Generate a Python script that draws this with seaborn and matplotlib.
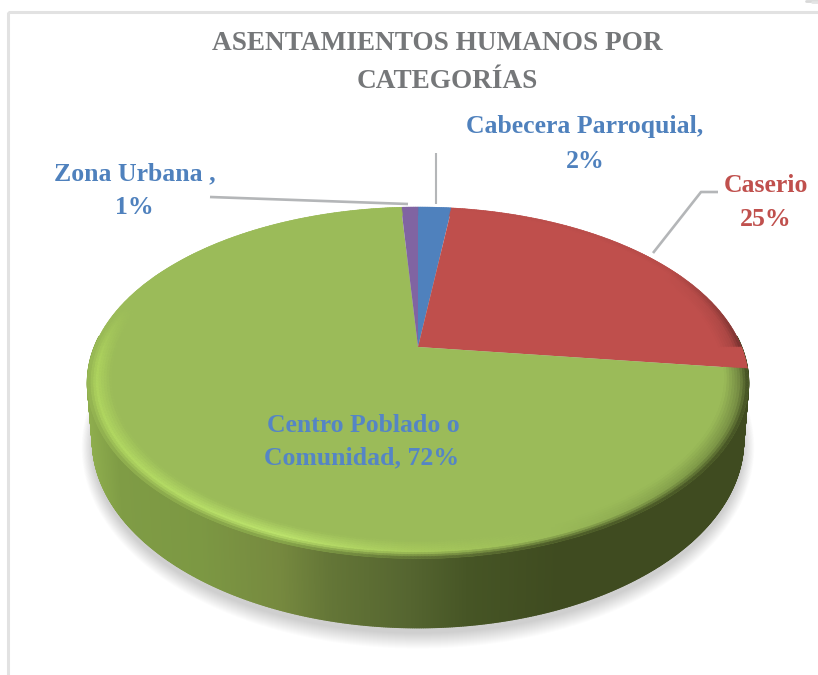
import numpy as np
import matplotlib
matplotlib.use("Agg")
import matplotlib.pyplot as plt
import matplotlib.transforms as mtransforms
from matplotlib.collections import PolyCollection
from matplotlib.colors import to_rgb
from matplotlib.patches import Polygon, Rectangle
import seaborn as sns

# ---- data ----
categories = ["Cabecera Parroquial", "Caserio", "Centro Poblado o Comunidad", "Zona Urbana"]
values = [2, 25, 72, 1]
slice_colors = ["#4f81bd", "#bf4f4c", "#9bbb59", "#8064a2"]
title_lines = ["ASENTAMIENTOS HUMANOS POR", "CATEGORÍAS"]

sns.set_theme(style="white")
plt.rcParams["font.family"] = ["Liberation Serif", "DejaVu Serif"]

# ---- perspective of the disc (pixels) ----
CX, CY, A, B, K = 418.0, 347.0, 323.6, 168.5, 0.2037
DEPTH = 55.0


class Persp(mtransforms.Transform):
    input_dims = 2
    output_dims = 2
    is_separable = False
    has_inverse = False

    def transform_non_affine(self, v):
        v = np.asarray(v, float)
        w = 1 + K * v[:, 1]
        return np.column_stack((CX + A * v[:, 0] / w, CY - B * v[:, 1] / w))


persp = Persp()


def ring(theta, r=1.0, drop=0.0, shrink=1.0):
    w = 1 + K * r * np.sin(theta)
    x = CX + shrink * A * r * np.cos(theta) / w
    y = CY - B * r * np.sin(theta) / w + drop / w
    return x, y


def rgb(c):
    return np.array(to_rgb(c))


def interp_col(q, xs, cols):
    arr = np.array([rgb(c) for c in cols])
    return np.column_stack([np.interp(q, xs, arr[:, i]) for i in range(3)])


fig = plt.figure(figsize=(8.18, 6.75), dpi=100, facecolor="white")
ax = fig.add_axes([0, 0, 1, 1])

wedges, _ = ax.pie(values, colors=slice_colors, startangle=90, counterclock=False,
                   radius=1.0, wedgeprops=dict(linewidth=0))
for w in wedges:
    w.set_transform(persp + ax.transData)
    w.set_zorder(5)

ax.set_aspect("auto")
ax.set_xlim(0, 818)
ax.set_ylim(675, 0)
ax.axis("off")

# frame of the picture
ax.add_patch(Rectangle((8, 12), 830, 690, fill=False, ec="#e2e2e2", lw=2.2, zorder=0))
ax.plot([806, 818], [0.5, 0.5], color="#d8d8d8", lw=2, zorder=0)
ax.plot([812, 818], [2, 2], color="#e4e4e4", lw=2, zorder=0)

# soft shadow
th = np.linspace(0, 2 * np.pi, 361)
sx, sy = ring(th, 1.0, DEPTH, 0.985)
for i in range(16):
    gx = 1 + 0.0022 * i
    gy = 1 + 0.0048 * i
    ax.add_patch(Polygon(np.column_stack((CX + (sx - CX) * gx,
                                          420 + (sy - 420) * gy + 6)),
                         fc="black", ec="none", alpha=0.011, zorder=1))

# side wall
n = 720
edges = np.linspace(-np.pi * 0.02, np.pi * 1.02, n + 1) + np.pi
ux, uy = ring(edges, 1.0)
lx, ly = ring(edges, 1.0, DEPTH, 0.985)
polys = [[(ux[i], uy[i]), (ux[i + 1], uy[i + 1]), (lx[i + 1], ly[i + 1]), (lx[i], ly[i])]
         for i in range(n)]
side_x = [88, 120, 200, 280, 330, 410, 470, 560, 749]
side_c = ["#8fae4e", "#7f9c45", "#7c9843", "#76893f", "#647637", "#556530", "#465525",
          "#3f4b20", "#3f4b20"]
midx = 0.5 * (ux[:-1] + ux[1:])
cols = interp_col(midx, side_x, side_c)
ax.add_collection(PolyCollection(polys, facecolors=cols, edgecolors=cols, linewidths=1.0,
                                 zorder=2))

# bevel around the top face
angles = np.linspace(0, 2 * np.pi, 721)
mid = 0.5 * (angles[:-1] + angles[1:])
deg = np.degrees(mid)
clock = (90 - deg) % 360
cum = np.cumsum(values) / np.sum(values) * 360
idx = np.searchsorted(cum, clock)
base = np.array([rgb(slice_colors[i]) for i in idx])

hl_deg = [0, 25, 60, 100, 165, 185, 225, 250, 270, 290, 320, 360]
hl_col = ["#6f8240", "#9bbb59", "#9bbb59", "#9bbb59", "#9bbb59", "#aed35e", "#b4db64", "#bde46d",
          "#a8ca5c", "#9bbb59", "#7f9a48", "#6f8240"]
rim_col = ["#3f4b20", "#9bbb59", "#9bbb59", "#9bbb59", "#9bbb59", "#94b452", "#86a349", "#7c9843",
           "#556530", "#3f4b20", "#3f4b20", "#3f4b20"]
mid_c = interp_col(deg, hl_deg, hl_col)
out_c = interp_col(deg, hl_deg, rim_col)
# non-green slices keep their hue at the rim and only darken towards the right
is_red = idx == 1
mid_c[is_red] = base[is_red] * np.interp(deg[is_red], [0, 30, 90], [0.88, 1.0, 1.0])[:, None]
out_c[is_red] = base[is_red] * np.interp(deg[is_red], [0, 30, 90], [0.6, 0.95, 1.0])[:, None]
other = (idx == 0) | (idx == 3)
mid_c[other] = base[other]
out_c[other] = base[other]

ts = np.linspace(0.93, 1.0, 10)
pts = np.interp(ts, [0.93, 0.975, 1.0], [0, 1, 2])
polys, fcs = [], []
for j in range(len(ts) - 1):
    x0, y0 = ring(angles, ts[j])
    x1, y1 = ring(angles, ts[j + 1])
    f = 0.5 * (pts[j] + pts[j + 1])
    if f < 1:
        c = base + (mid_c - base) * f
    else:
        c = mid_c + (out_c - mid_c) * (f - 1)
    for i in range(len(mid)):
        polys.append([(x0[i], y0[i]), (x0[i + 1], y0[i + 1]), (x1[i + 1], y1[i + 1]), (x1[i], y1[i])])
        fcs.append(c[i])
fcs = np.clip(np.array(fcs), 0, 1)
ax.add_collection(PolyCollection(polys, facecolors=fcs, edgecolors=fcs, linewidths=0.4, zorder=6))

# leader lines
lead = "#b4b6b8"
ax.plot([210, 408], [197, 204], color=lead, lw=1.9, zorder=7, solid_capstyle="butt")
ax.plot([436, 436], [153, 204], color=lead, lw=1.5, zorder=7, solid_capstyle="butt")
ax.plot([718, 701, 653], [192, 192, 253], color=lead, lw=1.9, zorder=7, solid_capstyle="butt")

# texts
text_kw = dict(ha="center", va="center", fontweight="bold", zorder=9)
grey, blue, red = "#757779", "#4f81bd", "#c0504d"
LABEL = 18.5
ax.text(437, 43, title_lines[0], fontsize=19.6, color=grey, **text_kw)
ax.text(447, 81, title_lines[1], fontsize=19.6, color=grey, **text_kw)
ax.text(585, 127, "Cabecera Parroquial,", fontsize=LABEL, color=blue, **text_kw)
ax.text(585, 161, "2%", fontsize=LABEL, color=blue, **text_kw)
ax.text(135, 174, "Zona Urbana ,", fontsize=LABEL, color=blue, **text_kw)
ax.text(134, 208, "1%", fontsize=LABEL, color=blue, **text_kw)
ax.text(766, 186, "Caserio", fontsize=LABEL, color=red, **text_kw)
ax.text(766, 220, "25%", fontsize=LABEL, color=red, **text_kw)
ax.text(363, 425, "Centro Poblado o", fontsize=LABEL, color="#5585c5", **text_kw)
ax.text(362, 458, "Comunidad, 72%", fontsize=LABEL, color="#5585c5", **text_kw)

fig.savefig("out.png", dpi=100, facecolor="white")
